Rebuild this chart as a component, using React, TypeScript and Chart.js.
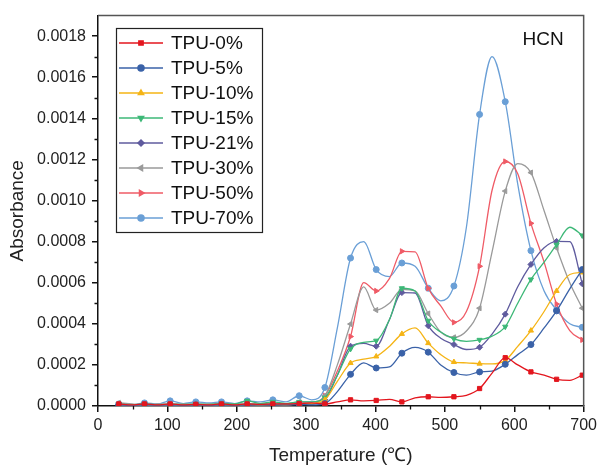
import React, { useEffect, useRef } from 'react';
import { Chart, registerables } from 'chart.js';
import { drawPoint } from 'chart.js/helpers';

Chart.register(...registerables);

// Temperature (°C) sampling grid
const temperatures = [30, 49, 67, 86, 104, 123, 141, 160, 178, 197, 215, 234, 252, 271, 290, 308, 327, 345, 364, 383, 401, 420, 438, 457, 476, 494, 513, 531, 550, 568, 587, 605, 624, 643, 661, 680, 698];

const tpu0 = [0.00001, 0.000005, 0.00001, 0.000005, 0.00001, 0.000005, 0.000008, 0.000005, 0.00001, 0.000005, 0.00001, 0.000008, 0.00001, 0.00001, 0.000012, 0.000015, 0.00001, 0.00002, 0.00003, 0.000025, 0.000027, 0.000032, 0.00002, 0.00004, 0.000045, 0.000042, 0.000045, 0.000052, 0.000085, 0.00016, 0.000235, 0.0002, 0.000166, 0.00015, 0.00013, 0.000125, 0.00015];
const tpu5 = [0.000005, 0.000003, 0.000005, 0.000003, 0.000005, 0.000003, 0.000005, 0.000003, 0.000005, 0.000003, 0.000005, 0.000005, 0.000005, 0.000005, 0.000008, 0.000005, 0.000012, 0.00007, 0.000154, 0.00021, 0.000185, 0.00019, 0.000257, 0.000285, 0.000262, 0.0002, 0.000163, 0.00015, 0.000166, 0.00017, 0.000203, 0.00025, 0.000299, 0.00038, 0.000463, 0.00057, 0.000664];
const tpu10 = [0.000006, 0.000004, 0.000006, 0.000004, 0.000006, 0.000004, 0.000006, 0.000004, 0.000006, 0.000004, 0.000008, 0.000006, 0.000008, 0.000006, 0.00001, 0.000012, 0.00003, 0.00012, 0.000209, 0.000228, 0.000241, 0.00029, 0.000351, 0.00038, 0.000306, 0.00025, 0.000214, 0.00021, 0.000206, 0.000205, 0.000222, 0.00029, 0.000367, 0.00046, 0.00056, 0.00064, 0.00065];
const tpu15 = [0.00001, 0.000006, 0.00001, 0.000006, 0.00001, 0.000008, 0.00001, 0.000008, 0.000012, 0.00001, 0.000025, 0.000012, 0.00002, 0.000012, 0.00002, 0.00002, 0.00004, 0.00015, 0.000278, 0.00031, 0.000318, 0.00042, 0.000573, 0.00056, 0.000415, 0.00036, 0.000327, 0.000315, 0.000322, 0.00034, 0.000386, 0.0005, 0.000616, 0.0007, 0.000785, 0.00087, 0.00083];
const tpu21 = [0.000006, 0.000004, 0.000006, 0.000004, 0.000006, 0.000004, 0.000006, 0.000004, 0.000006, 0.000004, 0.000006, 0.000005, 0.000006, 0.000005, 0.000008, 0.00001, 0.00003, 0.00015, 0.000291, 0.000305, 0.000291, 0.00042, 0.000552, 0.00055, 0.000391, 0.00033, 0.000299, 0.000275, 0.000286, 0.00035, 0.000447, 0.00058, 0.000689, 0.00077, 0.000801, 0.0008, 0.000595];
const tpu30 = [0.000015, 0.00001, 0.000005, 0.00001, 0.000008, 0.00001, 0.000008, 0.00001, 0.000008, 0.00001, 0.000012, 0.00001, 0.000015, 0.00001, 0.00002, 0.00002, 0.00005, 0.0002, 0.000399, 0.00058, 0.000467, 0.0005, 0.000568, 0.00056, 0.00045, 0.00036, 0.000334, 0.000365, 0.000476, 0.00075, 0.001046, 0.00118, 0.001136, 0.00095, 0.000769, 0.0006, 0.000476];
const tpu50 = [0.000005, 0.000004, 0.000005, 0.000004, 0.000005, 0.000004, 0.000005, 0.000004, 0.000005, 0.000004, 0.000006, 0.000005, 0.000006, 0.000005, 0.00001, 0.00001, 0.00005, 0.00017, 0.000338, 0.0006, 0.00056, 0.00062, 0.000753, 0.00075, 0.000573, 0.000487, 0.000407, 0.00046, 0.00068, 0.00105, 0.00119, 0.00113, 0.000889, 0.0007, 0.000496, 0.000367, 0.000322];
const tpu70 = [0.00001, 0.000005, 0.000015, 0.00001, 0.000025, 0.000012, 0.00002, 0.000015, 0.00002, 0.000012, 0.000025, 0.00002, 0.00003, 0.00002, 0.00005, 0.00003, 0.00009, 0.00038, 0.00072, 0.0008, 0.000664, 0.00063, 0.000696, 0.00068, 0.000573, 0.000512, 0.000584, 0.00087, 0.001419, 0.0017, 0.001481, 0.00108, 0.000756, 0.00056, 0.000467, 0.0004, 0.000383];

const seriesValues = [tpu0, tpu5, tpu10, tpu15, tpu21, tpu30, tpu50, tpu70];
const seriesNames = ['TPU-0%', 'TPU-5%', 'TPU-10%', 'TPU-15%', 'TPU-21%', 'TPU-30%', 'TPU-50%', 'TPU-70%'];
const seriesColors = ['#e3161e', '#3a62a8', '#f5b415', '#3db877', '#5f5b9e', '#9a9a9a', '#ef5b66', '#6a9fd6'];
const seriesMarkers = ['rect', 'circle', 'triangle', 'triangle', 'rectRot', 'triangle', 'triangle', 'circle'];
const seriesRotations = [0, 0, 0, 180, 0, 270, 90, 0];

const xMajorTicks = [0, 100, 200, 300, 400, 500, 600, 700];
const xMinorTicks = [50, 150, 250, 350, 450, 550, 650];
const yMinorTicks = [0.0001, 0.0003, 0.0005, 0.0007, 0.0009, 0.0011, 0.0013, 0.0015, 0.0017];

const FONT = '"Liberation Sans", Arial, sans-serif';

const decorPlugin = {
  id: 'decor',
  afterDraw(chart: any) {
    const { ctx, chartArea: a, scales } = chart;
    ctx.save();
    // frame (top and right)
    ctx.strokeStyle = '#555';
    ctx.lineWidth = 1.5;
    ctx.beginPath();
    ctx.moveTo(a.left, a.top);
    ctx.lineTo(a.right, a.top);
    ctx.lineTo(a.right, a.bottom);
    ctx.stroke();
    // minor ticks
    ctx.strokeStyle = '#111';
    ctx.lineWidth = 1.3;
    ctx.beginPath();
    for (const v of xMinorTicks) {
      const px = Math.round(scales.x.getPixelForValue(v)) + 0.5;
      ctx.moveTo(px, a.bottom);
      ctx.lineTo(px, a.bottom + 3.5);
    }
    for (const v of yMinorTicks) {
      const py = Math.round(scales.y.getPixelForValue(v)) + 0.5;
      ctx.moveTo(a.left, py);
      ctx.lineTo(a.left - 3.5, py);
    }
    ctx.stroke();

    // HCN label
    ctx.fillStyle = '#111';
    ctx.font = `19px ${FONT}`;
    ctx.textAlign = 'right';
    ctx.textBaseline = 'middle';
    ctx.fillText('HCN', a.right - 20, 40);

    // legend
    const bx = 116, by = 28, bw = 146, bh = 204;
    ctx.fillStyle = '#fff';
    ctx.fillRect(bx, by, bw, bh);
    ctx.strokeStyle = '#222';
    ctx.lineWidth = 1.2;
    ctx.strokeRect(bx + 0.5, by + 0.5, bw, bh);
    ctx.font = `19px ${FONT}`;
    ctx.textAlign = 'left';
    chart.data.datasets.forEach((ds: any, i: number) => {
      const y = 43 + i * 25;
      ctx.strokeStyle = ds.borderColor;
      ctx.lineWidth = 1.5;
      ctx.beginPath();
      ctx.moveTo(119, y);
      ctx.lineTo(163, y);
      ctx.stroke();
      ctx.fillStyle = ds.borderColor;
      drawPoint(ctx, { pointStyle: ds.pointStyle, radius: 3, rotation: ds.pointRotation, borderWidth: 1 }, 141, y);
      ctx.fillStyle = '#111';
      ctx.fillText(ds.label, 171, y + 1);
    });
    ctx.restore();
  },
};

export default function App() {
  const canvasRef = useRef<HTMLCanvasElement | null>(null);

  useEffect(() => {
    document.body.style.margin = '0';
    const canvas = canvasRef.current;
    if (!canvas) return;
    const datasets = seriesValues.map((vals, i) => ({
      label: seriesNames[i],
      data: temperatures.map((t, j) => ({ x: t, y: vals[j] })),
      borderColor: seriesColors[i],
      backgroundColor: seriesColors[i],
      pointBackgroundColor: seriesColors[i],
      pointBorderColor: seriesColors[i],
      borderWidth: 1.3,
      pointStyle: seriesMarkers[i],
      pointRotation: seriesRotations[i],
      pointRadius: (c: any) => (c.dataIndex % 2 === 0 ? 3 : 0),
      pointBorderWidth: 1,
      cubicInterpolationMode: 'monotone' as const,
      fill: false,
    }));
    const chart = new Chart(canvas, {
      type: 'line',
      data: { datasets },
      options: {
        animation: false,
        responsive: false,
        devicePixelRatio: 1,
        layout: { padding: { top: 13, right: 13, left: 0, bottom: 0 } },
        plugins: { legend: { display: false }, tooltip: { enabled: false } },
        scales: {
          x: {
            type: 'linear',
            min: 0,
            max: 700,
            afterBuildTicks: (s: any) => { s.ticks = xMajorTicks.map((v) => ({ value: v })); },
            afterFit: (s: any) => { s.height = 62; },
            ticks: { font: { family: FONT, size: 16 }, color: '#222', padding: 4, maxRotation: 0, autoSkip: false },
            grid: { drawOnChartArea: false, drawTicks: true, tickLength: 6, color: '#111', lineWidth: 1.5 },
            border: { display: true, color: '#111', width: 1.5 },
            title: { display: true, text: 'Temperature (℃)', font: { family: FONT, size: 19 }, color: '#222', padding: { top: 0, bottom: 1 } },
          },
          y: {
            type: 'linear',
            min: 0,
            max: 0.0019,
            ticks: { stepSize: 0.0002, font: { family: FONT, size: 16 }, color: '#222', padding: 6, callback: (v: any) => Number(v).toFixed(4) },
            afterBuildTicks: (s: any) => { s.ticks = s.ticks.filter((t: any) => t.value <= 0.00181); },
            afterFit: (s: any) => { s.width = 98; },
            grid: { drawOnChartArea: false, drawTicks: true, tickLength: 6, color: '#111', lineWidth: 1.5 },
            border: { display: true, color: '#111', width: 1.5 },
            title: { display: true, text: 'Absorbance', font: { family: FONT, size: 19 }, color: '#222', padding: { top: 6, bottom: 0 } },
          },
        },
      },
      plugins: [decorPlugin],
    });
    return () => chart.destroy();
  }, []);

  return (
    <div style={{ position: 'absolute', left: 0, top: 0, width: 601, height: 468, background: '#fff' }}>
      <canvas ref={canvasRef} width={601} height={468} />
    </div>
  );
}
